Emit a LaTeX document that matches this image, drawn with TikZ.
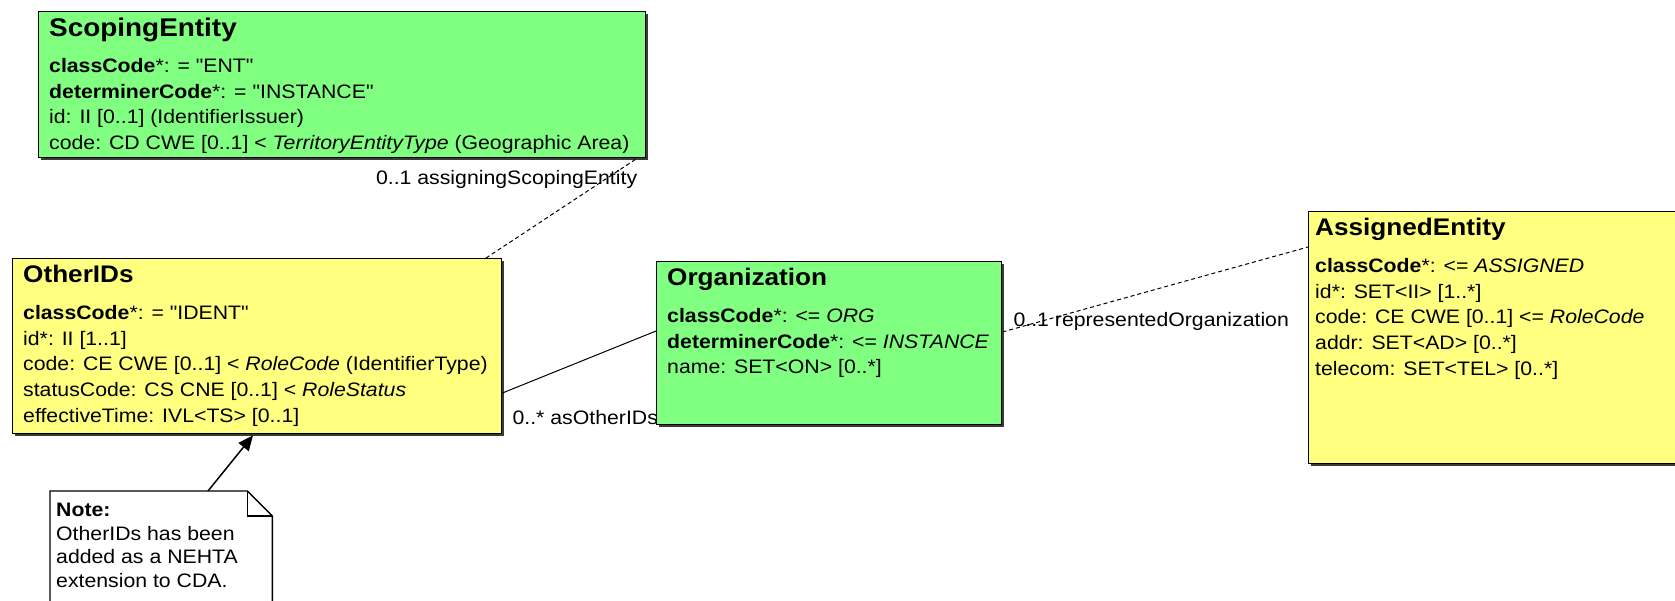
\documentclass[tikz,border=0pt]{standalone}
\usepackage{fontspec}
\setmainfont[FakeStretch=1.09, Ligatures=TeXOff]{Liberation Sans}
\usetikzlibrary{arrows.meta, calc, shadows}
\definecolor{classgreen}{HTML}{80FF80}
\definecolor{classyellow}{HTML}{FFFF80}
\definecolor{shadowgray}{HTML}{3A3A3A}

\begin{document}
\begin{tikzpicture}[x=1pt, y=-1pt,
    every node/.style={font=\fontsize{19.5}{25.7}\selectfont, inner sep=0pt},
    classbox/.style={rectangle, draw=black, line width=1.4pt, anchor=north west, drop shadow={shadow xshift=2pt, shadow yshift=-2pt, fill=shadowgray, opacity=1}},
    ctitle/.style={anchor=base west, font=\fontsize{24}{28}\selectfont\bfseries},
    attrs/.style={anchor=north west, align=left},
    assoc/.style={line width=1pt, color=black},
    dashassoc/.style={assoc, dash pattern=on 4pt off 3pt},
    rolelab/.style={anchor=base west},
    notearrow/.style={-{Triangle[length=15pt, width=13pt]}, line width=1.5pt}
]
\path[use as bounding box, fill=white] (0,0) rectangle (1675,600);
\clip (0,0) rectangle (1675,600);

% Classes
\node[classbox, fill=classgreen, minimum width=607pt, minimum height=146pt] (scope) at (38,11) {};
\node[classbox, fill=classyellow, minimum width=489pt, minimum height=175pt] (oth) at (12,258) {};
\node[classbox, fill=classgreen, minimum width=345pt, minimum height=163pt] (org) at (656,261) {};
\node[classbox, fill=classyellow, minimum width=402pt, minimum height=252pt] (asgn) at (1308,211) {};

% Class names
\node[ctitle, font=\fontsize{25.6}{28}\selectfont\bfseries] (scopet) at ($(scope.north west)+(11,25)$) {ScopingEntity};
\node[ctitle] (otht)   at ($(oth.north west)+(11,24.5)$)   {OtherIDs};
\node[ctitle] (orgt)   at ($(org.north west)+(11,24.5)$)   {Organization};
\node[ctitle] (asgnt)  at ($(asgn.north west)+(7,24.5)$)   {AssignedEntity};

% Attributes
\node[attrs] (scopea) at ($(scope.north west)+(11,47)$) {\textbf{classCode}*: = "ENT"\\
  \textbf{determinerCode}*: = "INSTANCE"\\
  id: II [0..1] (IdentifierIssuer)\\
  code: CD CWE [0..1] < \textit{TerritoryEntityType} (Geographic Area)};
\node[attrs] (otha) at ($(oth.north west)+(11,47)$) {\textbf{classCode}*: = "IDENT"\\
  id*: II [1..1]\\
  code: CE CWE [0..1] < \textit{RoleCode} (IdentifierType)\\
  statusCode: CS CNE [0..1] < \textit{RoleStatus}\\
  effectiveTime: IVL<TS> [0..1]};
\node[attrs] (orga) at ($(org.north west)+(11,47)$) {\textbf{classCode}*: <= \textit{ORG}\\
  \textbf{determinerCode}*: <= \textit{INSTANCE}\\
  name: SET<ON> [0..*]};
\node[attrs] (asgna) at ($(asgn.north west)+(7,47)$) {\textbf{classCode}*: <= \textit{ASSIGNED}\\
  id*: SET<II> [1..*]\\
  code: CE CWE [0..1] <= \textit{RoleCode}\\
  addr: SET<AD> [0..*]\\
  telecom: SET<TEL> [0..*]};

% Note
\node[minimum width=222pt, minimum height=130pt, anchor=north west] (notebox) at (50,491) {};
\draw[line width=1.4pt, fill=white] (notebox.south west) -- (notebox.north west) -- ($(notebox.north east)+(-25,0)$) -- ($(notebox.north east)+(0,25)$) -- (notebox.south east);
\draw[line width=1.4pt] ($(notebox.north east)+(-25,0)$) -- ($(notebox.north east)+(-25,25)$) -- ($(notebox.north east)+(0,25)$);
\node[anchor=north west, align=left, font=\fontsize{19.5}{23.5}\selectfont] (notetext) at ($(notebox.north west)+(6,12)$) {\textbf{Note:}\\OtherIDs has been\\added as a NEHTA\\extension to CDA.};
\draw[notearrow] ($(notebox.north west)+(158,0)$) -- ($(oth.south west)+(241,1)$);

% Associations
\draw[dashassoc] ($(oth.north west)+(474,0)$) -- ($(scope.south west)+(599,0)$);
\node[anchor=base east] (scopelab) at ($(scope.south east)+(-9,26)$) {0..1 assigningScopingEntity};
\draw[assoc] ($(oth.north east)+(0,135)$) -- ($(org.north west)+(0,70)$);
\node[rolelab] (othlab) at ($(oth.north east)+(10,166)$) {0..* asOtherIDs};
\draw[dashassoc] ($(org.north east)+(0,71)$) -- ($(asgn.north west)+(0,36)$);
\node[rolelab] (orglab) at ($(org.north east)+(11,65)$) {0..1 representedOrganization};
\end{tikzpicture}
\end{document}
